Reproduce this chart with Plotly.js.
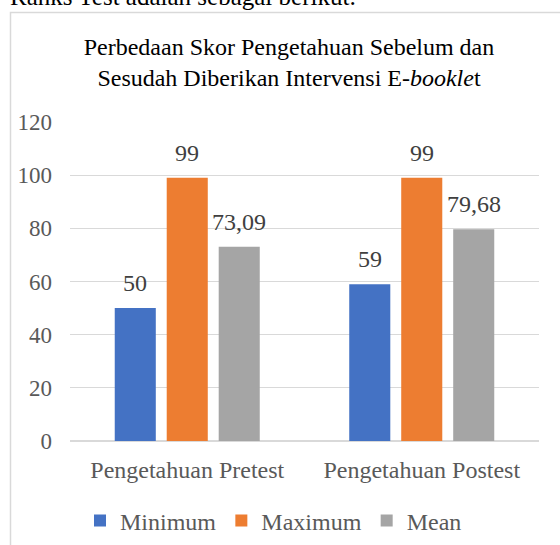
<!DOCTYPE html>
<html>
<head>
<meta charset="utf-8">
<script src="https://cdn.plot.ly/plotly-3.0.1.min.js"></script>
<style>html,body{margin:0;padding:0;background:#fff;}#chart{width:560px;height:545px;}</style>
</head>
<body>
<div id="chart"></div>
<script>
const categories = ["Pengetahuan Pretest", "Pengetahuan Postest"];
const seriesNames = ["Minimum", "Maximum", "Mean"];
const minimumValues = [50, 59];
const maximumValues = [99, 99];
const meanValues = [73.09, 79.68];
const seriesColors = ["#4472C4", "#ED7D31", "#A5A5A5"];
const yTicks = [0, 20, 40, 60, 80, 100, 120];

const FONT = "'Liberation Serif', 'Times New Roman', serif";
const fmt = v => String(v).replace('.', ',');

// pixel -> paper helpers (plot area: x 70..539, y 122..441)
const L = 70, R = 539, T = 122, B = 441;
const px = x => (x - L) / (R - L);
const py = y => (B - y) / (B - T);

const BARGAP = 0.335, BARGROUPGAP = 0.21;
const seriesValues = [minimumValues, maximumValues, meanValues];
const traces = seriesValues.map((vals, i) => ({
  type: 'bar',
  name: seriesNames[i],
  x: categories,
  y: vals,
  marker: {color: seriesColors[i]},
  hoverinfo: 'none'
}));

// data labels above each bar (offset to its slot within the group)
const catWidthPx = (R - L) / categories.length;
const slotPx = catWidthPx * (1 - BARGAP) / seriesValues.length;
const labelAnns = [];
seriesValues.forEach((vals, i) => {
  vals.forEach((v, j) => {
    labelAnns.push({
      text: fmt(v), xref: 'x', yref: 'y', x: categories[j], y: v,
      xanchor: 'center', yanchor: 'bottom',
      xshift: (i - (seriesValues.length - 1) / 2) * slotPx, yshift: 10,
      showarrow: false,
      font: {family: FONT, size: 24, color: '#404040'}
    });
  });
});

const layout = {
  width: 560, height: 545,
  margin: {l: L, r: 560 - R, t: T, b: 545 - B, pad: 0, autoexpand: false},
  paper_bgcolor: '#ffffff',
  plot_bgcolor: '#ffffff',
  font: {family: FONT, color: '#595959'},
  barmode: 'group',
  bargap: BARGAP,
  bargroupgap: BARGROUPGAP,
  title: {
    text: 'Perbedaan Skor Pengetahuan Sebelum dan<br>Sesudah Diberikan Intervensi E-<i>bookle</i>t',
    font: {family: FONT, size: 24, color: '#000000'},
    xref: 'paper', x: px(289), xanchor: 'center',
    yref: 'container', y: 1 - 55 / 545, yanchor: 'middle'
  },
  xaxis: {
    type: 'category',
    showgrid: false,
    showline: false,
    ticks: '',
    tickfont: {family: FONT, size: 24, color: '#595959'},
    ticklabelstandoff: 12,
    fixedrange: true
  },
  yaxis: {
    range: [0, 120],
    tickvals: yTicks,
    ticktext: yTicks.map(String),
    showgrid: true,
    gridcolor: '#D9D9D9',
    gridwidth: 1,
    zeroline: true,
    zerolinecolor: '#D9D9D9',
    zerolinewidth: 2,
    showline: false,
    ticks: '',
    tickfont: {family: FONT, size: 23, color: '#595959'},
    ticklabelstandoff: 17,
    fixedrange: true
  },
  legend: {
    orientation: 'h',
    x: px(80), xanchor: 'left',
    y: py(521), yanchor: 'middle',
    font: {family: FONT, size: 24, color: '#595959'},
    itemwidth: 30,
    traceorder: 'normal'
  },
  showlegend: true,
  shapes: [{
    type: 'rect', xref: 'paper', yref: 'paper',
    x0: px(10.5), x1: px(580), y0: py(570), y1: py(12.5),
    line: {color: '#D9D9D9', width: 1.5},
    fillcolor: 'rgba(0,0,0,0)',
    layer: 'below'
  }],
  annotations: [{
    text: 'Ranks Test adalah sebagai berikut:',
    xref: 'paper', yref: 'paper',
    x: px(8), xanchor: 'left',
    y: py(12), yanchor: 'bottom',
    showarrow: false,
    font: {family: FONT, size: 25, color: '#000000'}
  }].concat(labelAnns)
};

Plotly.newPlot('chart', traces, layout, {displayModeBar: false, staticPlot: true});
</script>
</body>
</html>
